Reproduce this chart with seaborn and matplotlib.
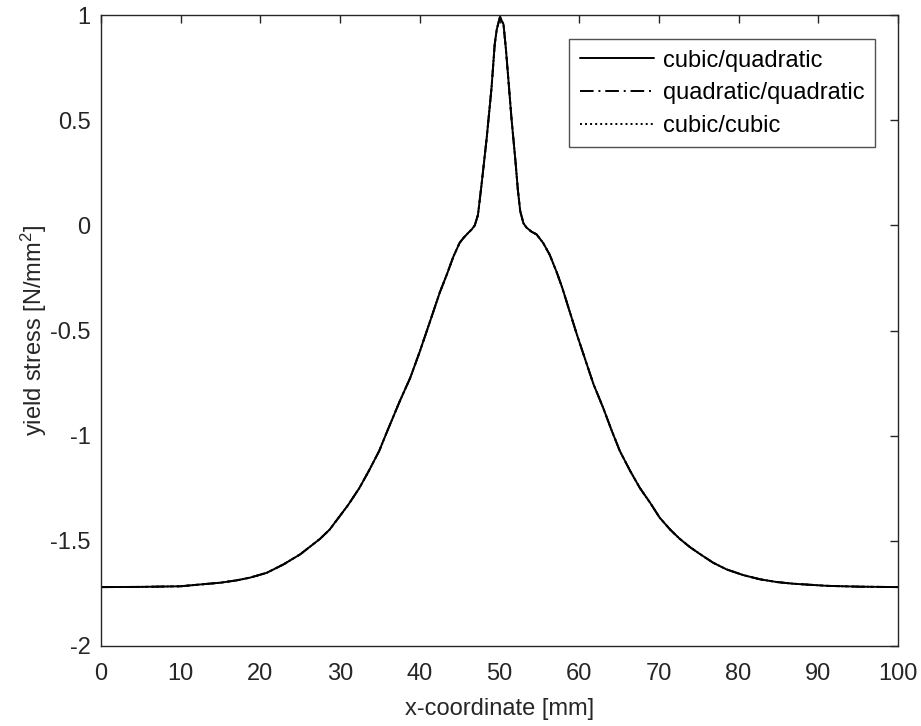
import matplotlib
matplotlib.use("Agg")
import matplotlib.pyplot as plt
import seaborn as sns
import pandas as pd

# ---- data ----
x_mm = [0, 5, 10, 12, 15, 17, 18.7, 20.8, 22.9, 25, 27.5, 28.7, 31.0, 32.4, 33.6,
        34.9, 35.9, 37.5, 38.8, 40.0, 41.3, 42.5, 43.4, 44.2, 45.0, 45.5, 46.1,
        46.5, 46.9, 47.3, 47.75, 48.4, 49.0, 49.4, 49.65, 50.05, 50.5, 50.8, 51.1,
        51.5, 52.0, 52.3, 52.6, 53.0, 53.4, 54.0, 54.65, 55.5, 56.3, 57.2, 57.9,
        58.6, 59.7, 61.1, 61.8, 63.0, 64.1, 65.1, 66.4, 67.6, 68.9, 70.1, 71.4,
        72.6, 73.9, 75.2, 76.8, 78.5, 80.6, 82.7, 84.8, 86.9, 91.1, 95.2, 100]
y_cubic_quadratic = [-1.72, -1.719, -1.716, -1.709, -1.699, -1.688, -1.675, -1.652,
                     -1.612, -1.564, -1.49, -1.446, -1.33, -1.25, -1.168, -1.073,
                     -0.98, -0.835, -0.725, -0.60, -0.455, -0.32, -0.233, -0.15,
                     -0.083, -0.059, -0.035, -0.02, 0.0, 0.05, 0.195, 0.417, 0.654,
                     0.861, 0.93, 0.99, 0.956, 0.84, 0.70, 0.51, 0.306, 0.17, 0.068,
                     0.01, -0.011, -0.03, -0.043, -0.085, -0.14, -0.225, -0.30,
                     -0.385, -0.518, -0.677, -0.756, -0.867, -0.978, -1.073, -1.168,
                     -1.248, -1.319, -1.39, -1.446, -1.49, -1.53, -1.564, -1.604,
                     -1.636, -1.663, -1.683, -1.696, -1.704, -1.714, -1.718, -1.72]
y_quadratic_quadratic = list(y_cubic_quadratic)
y_cubic_cubic = list(y_cubic_quadratic)

series_names = ["cubic/quadratic", "quadratic/quadratic", "cubic/cubic"]
x_ticks = [0, 10, 20, 30, 40, 50, 60, 70, 80, 90, 100]
x_tick_labels = ["0", "10", "20", "30", "40", "50", "60", "70", "80", "90", "100"]
y_ticks = [-2, -1.5, -1, -0.5, 0, 0.5, 1]
y_tick_labels = ["-2", "-1.5", "-1", "-0.5", "0", "0.5", "1"]

sns.set_theme(style="white")
plt.rcParams["font.family"] = ["Liberation Sans", "DejaVu Sans"]
plt.rcParams["mathtext.default"] = "regular"
plt.rcParams["axes.unicode_minus"] = False

AX_COL = "#262626"
FS = 17
fig = plt.figure(figsize=(9.21, 7.26), dpi=100)
ax = fig.add_axes([101 / 921, 80 / 726, 797 / 921, 631 / 726])

styles = ["-", (0, (7, 2.5, 1, 2.5)), (0, (1, 1.6))]
all_y = [y_cubic_quadratic, y_quadratic_quadratic, y_cubic_cubic]
for name, ys, ls in zip(series_names, all_y, styles):
    df = pd.DataFrame({"x": x_mm, "y": ys})
    sns.lineplot(data=df, x="x", y="y", ax=ax, color="black", linewidth=1.4,
                 linestyle=ls, label=name, sort=False, estimator=None)

ax.set_xlim(0, 100)
ax.set_ylim(-2, 1)
ax.set_xticks(x_ticks)
ax.set_xticklabels(x_tick_labels)
ax.set_yticks(y_ticks)
ax.set_yticklabels(y_tick_labels)

ax.tick_params(axis="both", direction="in", length=6, width=1.0, color=AX_COL,
               labelcolor=AX_COL, labelsize=FS, top=True, right=True)
ax.tick_params(axis="x", pad=12)
ax.tick_params(axis="y", pad=7.5)
for s in ax.spines.values():
    s.set_visible(True)
    s.set_color(AX_COL)
    s.set_linewidth(1.0)

ax.set_xlabel("x-coordinate [mm]", fontsize=FS, color=AX_COL)
ax.set_ylabel("yield stress [N/mm$^2$]", fontsize=FS, color=AX_COL)
ax.xaxis.set_label_coords(0.5, -0.082)
ax.yaxis.set_label_coords(-0.065, 0.5)

leg = ax.legend(loc="upper right", bbox_to_anchor=(0.971, 0.962), borderaxespad=0,
                fontsize=FS, frameon=True, fancybox=False, handlelength=3.15,
                handletextpad=0.35, labelspacing=0.45, borderpad=0.45)
leg.get_frame().set_edgecolor(AX_COL)
leg.get_frame().set_linewidth(1.0)
for t in leg.get_texts():
    t.set_color("black")

fig.savefig("out.png", dpi=100)
